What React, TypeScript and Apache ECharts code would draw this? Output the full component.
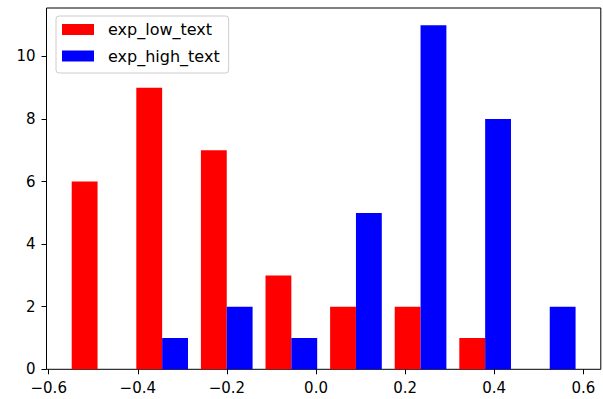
import React, { useEffect, useRef } from "react";
import * as echarts from "echarts";

const binEdges = [-0.5629, -0.4179, -0.2729, -0.1279, 0.0171, 0.1621, 0.3071, 0.4521, 0.5971];
const lowCounts = [6, 9, 7, 3, 2, 2, 1, 0];
const highCounts = [0, 1, 2, 1, 5, 11, 8, 2];
const seriesNames = ["exp_low_text", "exp_high_text"];
const seriesColors = ["#ff0000", "#0000ff"];
const xTicks = [-0.6, -0.4, -0.2, 0, 0.2, 0.4, 0.6];
const yTicks = [0, 2, 4, 6, 8, 10];

const FONT = "DejaVu Sans";

function fmtX(v: number) {
  const s = Math.abs(v).toFixed(1);
  return v < -1e-9 ? "\u2212" + s : s;
}

export default function App() {
  const ref = useRef<HTMLDivElement>(null);
  useEffect(() => {
    if (!ref.current) return;
    const chart = echarts.init(ref.current, undefined, { renderer: "svg" });
    const allCounts = [lowCounts, highCounts];
    const series = allCounts.map((counts, s) => ({
      name: seriesNames[s],
      type: "custom",
      itemStyle: { color: seriesColors[s] },
      encode: { x: [0, 1], y: 2 },
      data: counts.map((c, i) => [binEdges[i], binEdges[i + 1], c]),
      renderItem: (params: any, api: any) => {
        const l = api.value(0);
        const r = api.value(1);
        const c = api.value(2);
        const w = r - l;
        const x0 = l + 0.1 * w + s * 0.4 * w;
        const x1 = x0 + 0.4 * w;
        const p0 = api.coord([x0, c]);
        const p1 = api.coord([x1, 0]);
        return {
          type: "rect",
          shape: { x: p0[0], y: p0[1], width: p1[0] - p0[0], height: p1[1] - p0[1] },
          style: { fill: seriesColors[s] },
        };
      },
    }));
    chart.setOption({
      animation: false,
      backgroundColor: "#ffffff",
      grid: {
        left: 46.5,
        right: 2.2,
        top: 8,
        bottom: 29.7,
        show: true,
        borderColor: "#000000",
        borderWidth: 1,
        backgroundColor: "transparent",
      },
      legend: {
        orient: "vertical",
        left: 56,
        top: 16,
        padding: [5.5, 9, 9, 6],
        itemGap: 10.5,
        itemWidth: 32,
        itemHeight: 11,
        icon: "rect",
        backgroundColor: "rgba(255,255,255,0.8)",
        borderColor: "#cccccc",
        borderWidth: 1,
        borderRadius: 3,
        data: seriesNames,
        textStyle: {
          fontFamily: FONT,
          fontSize: 16,
          color: "#000000",
          lineHeight: 16,
          padding: [0, 0, 0, 9],
        },
      },
      xAxis: {
        type: "value",
        min: -0.605,
        max: 0.6392,
        axisLine: { show: false, onZero: false },
        splitLine: { show: false },
        axisTick: {
          show: true,
          length: 5,
          customValues: xTicks,
          lineStyle: { color: "#000000", width: 1 },
        },
        axisLabel: {
          customValues: xTicks,
          formatter: fmtX,
          fontFamily: FONT,
          fontSize: 15,
          color: "#000000",
          margin: 11,
        },
      },
      yAxis: {
        type: "value",
        min: 0,
        max: 11.55,
        axisLine: { show: false, onZero: false },
        splitLine: { show: false },
        axisTick: {
          show: true,
          length: 5,
          customValues: yTicks,
          lineStyle: { color: "#000000", width: 1 },
        },
        axisLabel: {
          customValues: yTicks,
          fontFamily: FONT,
          fontSize: 15,
          lineHeight: 11,
          color: "#000000",
          margin: 11,
        },
      },
      series,
    });
    return () => chart.dispose();
  }, []);
  return (
    <div
      ref={ref}
      style={{ position: "fixed", left: 0, top: 0, width: 603, height: 399, background: "#fff" }}
    />
  );
}
